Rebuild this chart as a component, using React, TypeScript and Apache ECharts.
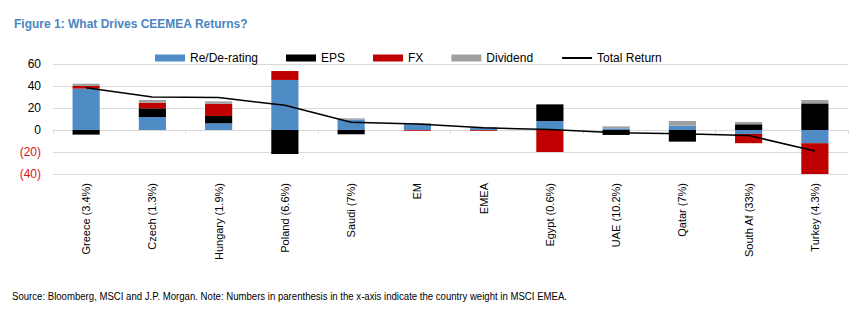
import React, { useEffect, useRef } from "react";
import * as echarts from "echarts";

const categories = [
  "Greece (3.4%)",
  "Czech (1.3%)",
  "Hungary (1.9%)",
  "Poland (6.6%)",
  "Saudi (7%)",
  "EM",
  "EMEA",
  "Egypt (0.6%)",
  "UAE (10.2%)",
  "Qatar (7%)",
  "South Af (33%)",
  "Turkey (4.3%)",
];
const rerating = [37.6, 11.8, 6.1, 45.5, 9.6, 5.4, 2.0, 8.2, 1.5, 3.9, -3.6, -12];
const eps = [-4.2, 7.9, 6.6, -21.8, -3.9, 0, 0, 15.1, -4.5, -10.6, 5.2, 24.2];
const fx = [2.4, 5.1, 11.2, 8.1, 0, -0.7, -0.7, -20, 0, 0, -8.4, -28];
const dividend = [2.1, 2.5, 2.1, 0, 1.0, 0.8, 0.8, 0, 1.8, 4.3, 2.1, 3.1];
const totalReturn = [38.5, 30, 29.5, 22.5, 7, 5.5, 2, 0.5, -2.5, -3.5, -5, -19];

const FONT = "'Liberation Sans', Arial, sans-serif";

export default function App() {
  const ref = useRef<HTMLDivElement>(null);
  useEffect(() => {
    if (!ref.current) return;
    const chart = echarts.init(ref.current, undefined, { renderer: "svg" });
    const barBase = {
      type: "bar" as const,
      stack: "total",
      barWidth: "41%",
      xAxisIndex: 0,
      yAxisIndex: 0,
    };
    chart.setOption({
      animation: false,
      textStyle: { fontFamily: FONT },
      title: {
        text: "Figure 1: What Drives CEEMEA Returns?",
        left: 9,
        top: 13,
        textStyle: { fontFamily: FONT, fontSize: 12, fontWeight: "bold", color: "#4a86bf" },
      },
      legend: {
        left: 150,
        top: 47,
        itemWidth: 30,
        itemHeight: 7,
        itemGap: 28,
        textStyle: { fontFamily: FONT, fontSize: 12, color: "#000" },
        data: [
          { name: "Re/De-rating", icon: "rect" },
          { name: "EPS", icon: "rect" },
          { name: "FX", icon: "rect" },
          { name: "Dividend", icon: "rect" },
          { name: "Total Return", itemStyle: { opacity: 0 } },
        ],
      },
      grid: { left: 53, right: 13, top: 64, bottom: 147 },
      xAxis: [
        {
          type: "category",
          data: categories,
          position: "bottom",
          axisLine: { show: false, onZero: false },
          axisTick: { show: false },
          axisLabel: {
            rotate: 90,
            margin: 9,
            fontSize: 11,
            color: "#000",
            fontFamily: FONT,
            interval: 0,
          },
        },
        {
          type: "category",
          data: categories,
          position: "bottom",
          axisLine: { show: true, onZero: true, lineStyle: { color: "#d9d9d9", width: 1 } },
          axisTick: { show: true, length: 4, lineStyle: { color: "#d9d9d9" } },
          axisLabel: { show: false },
        },
      ],
      yAxis: {
        type: "value",
        min: -40,
        max: 60,
        interval: 20,
        axisLine: { show: false },
        axisTick: { show: false },
        splitLine: { lineStyle: { color: "#d9d9d9", width: 1 } },
        axisLabel: {
          fontSize: 12,
          color: "#000",
          margin: 12,
          fontFamily: FONT,
          formatter: (v: number) => (v < 0 ? `{neg|(${-v})}` : `${v}`),
          rich: { neg: { color: "#e0101a", fontSize: 12, fontFamily: FONT } },
        },
      },
      series: [
        { ...barBase, name: "Re/De-rating", data: rerating, itemStyle: { color: "#4f8bc4" } },
        { ...barBase, name: "EPS", data: eps, itemStyle: { color: "#000000" } },
        { ...barBase, name: "FX", data: fx, itemStyle: { color: "#c00000" } },
        { ...barBase, name: "Dividend", data: dividend, itemStyle: { color: "#a0a0a0" } },
        {
          type: "line",
          name: "Total Return",
          data: totalReturn,
          symbol: "none",
          z: 5,
          lineStyle: { color: "#000", width: 1.5 },
          itemStyle: { color: "#000" },
        },
      ],
      graphic: [
        {
          type: "text",
          left: 12,
          top: 291,
          scaleX: 0.96,
          style: {
            text:
              "Source: Bloomberg, MSCI and J.P. Morgan. Note: Numbers in parenthesis in the x-axis indicate the country weight in MSCI EMEA.",
            fontSize: 10,
            fontFamily: FONT,
            fill: "#000",
          },
        },
      ],
    });
    return () => chart.dispose();
  }, []);
  return (
    <div
      ref={ref}
      style={{ position: "fixed", left: 0, top: 0, width: 861, height: 321, background: "#fff" }}
    />
  );
}
